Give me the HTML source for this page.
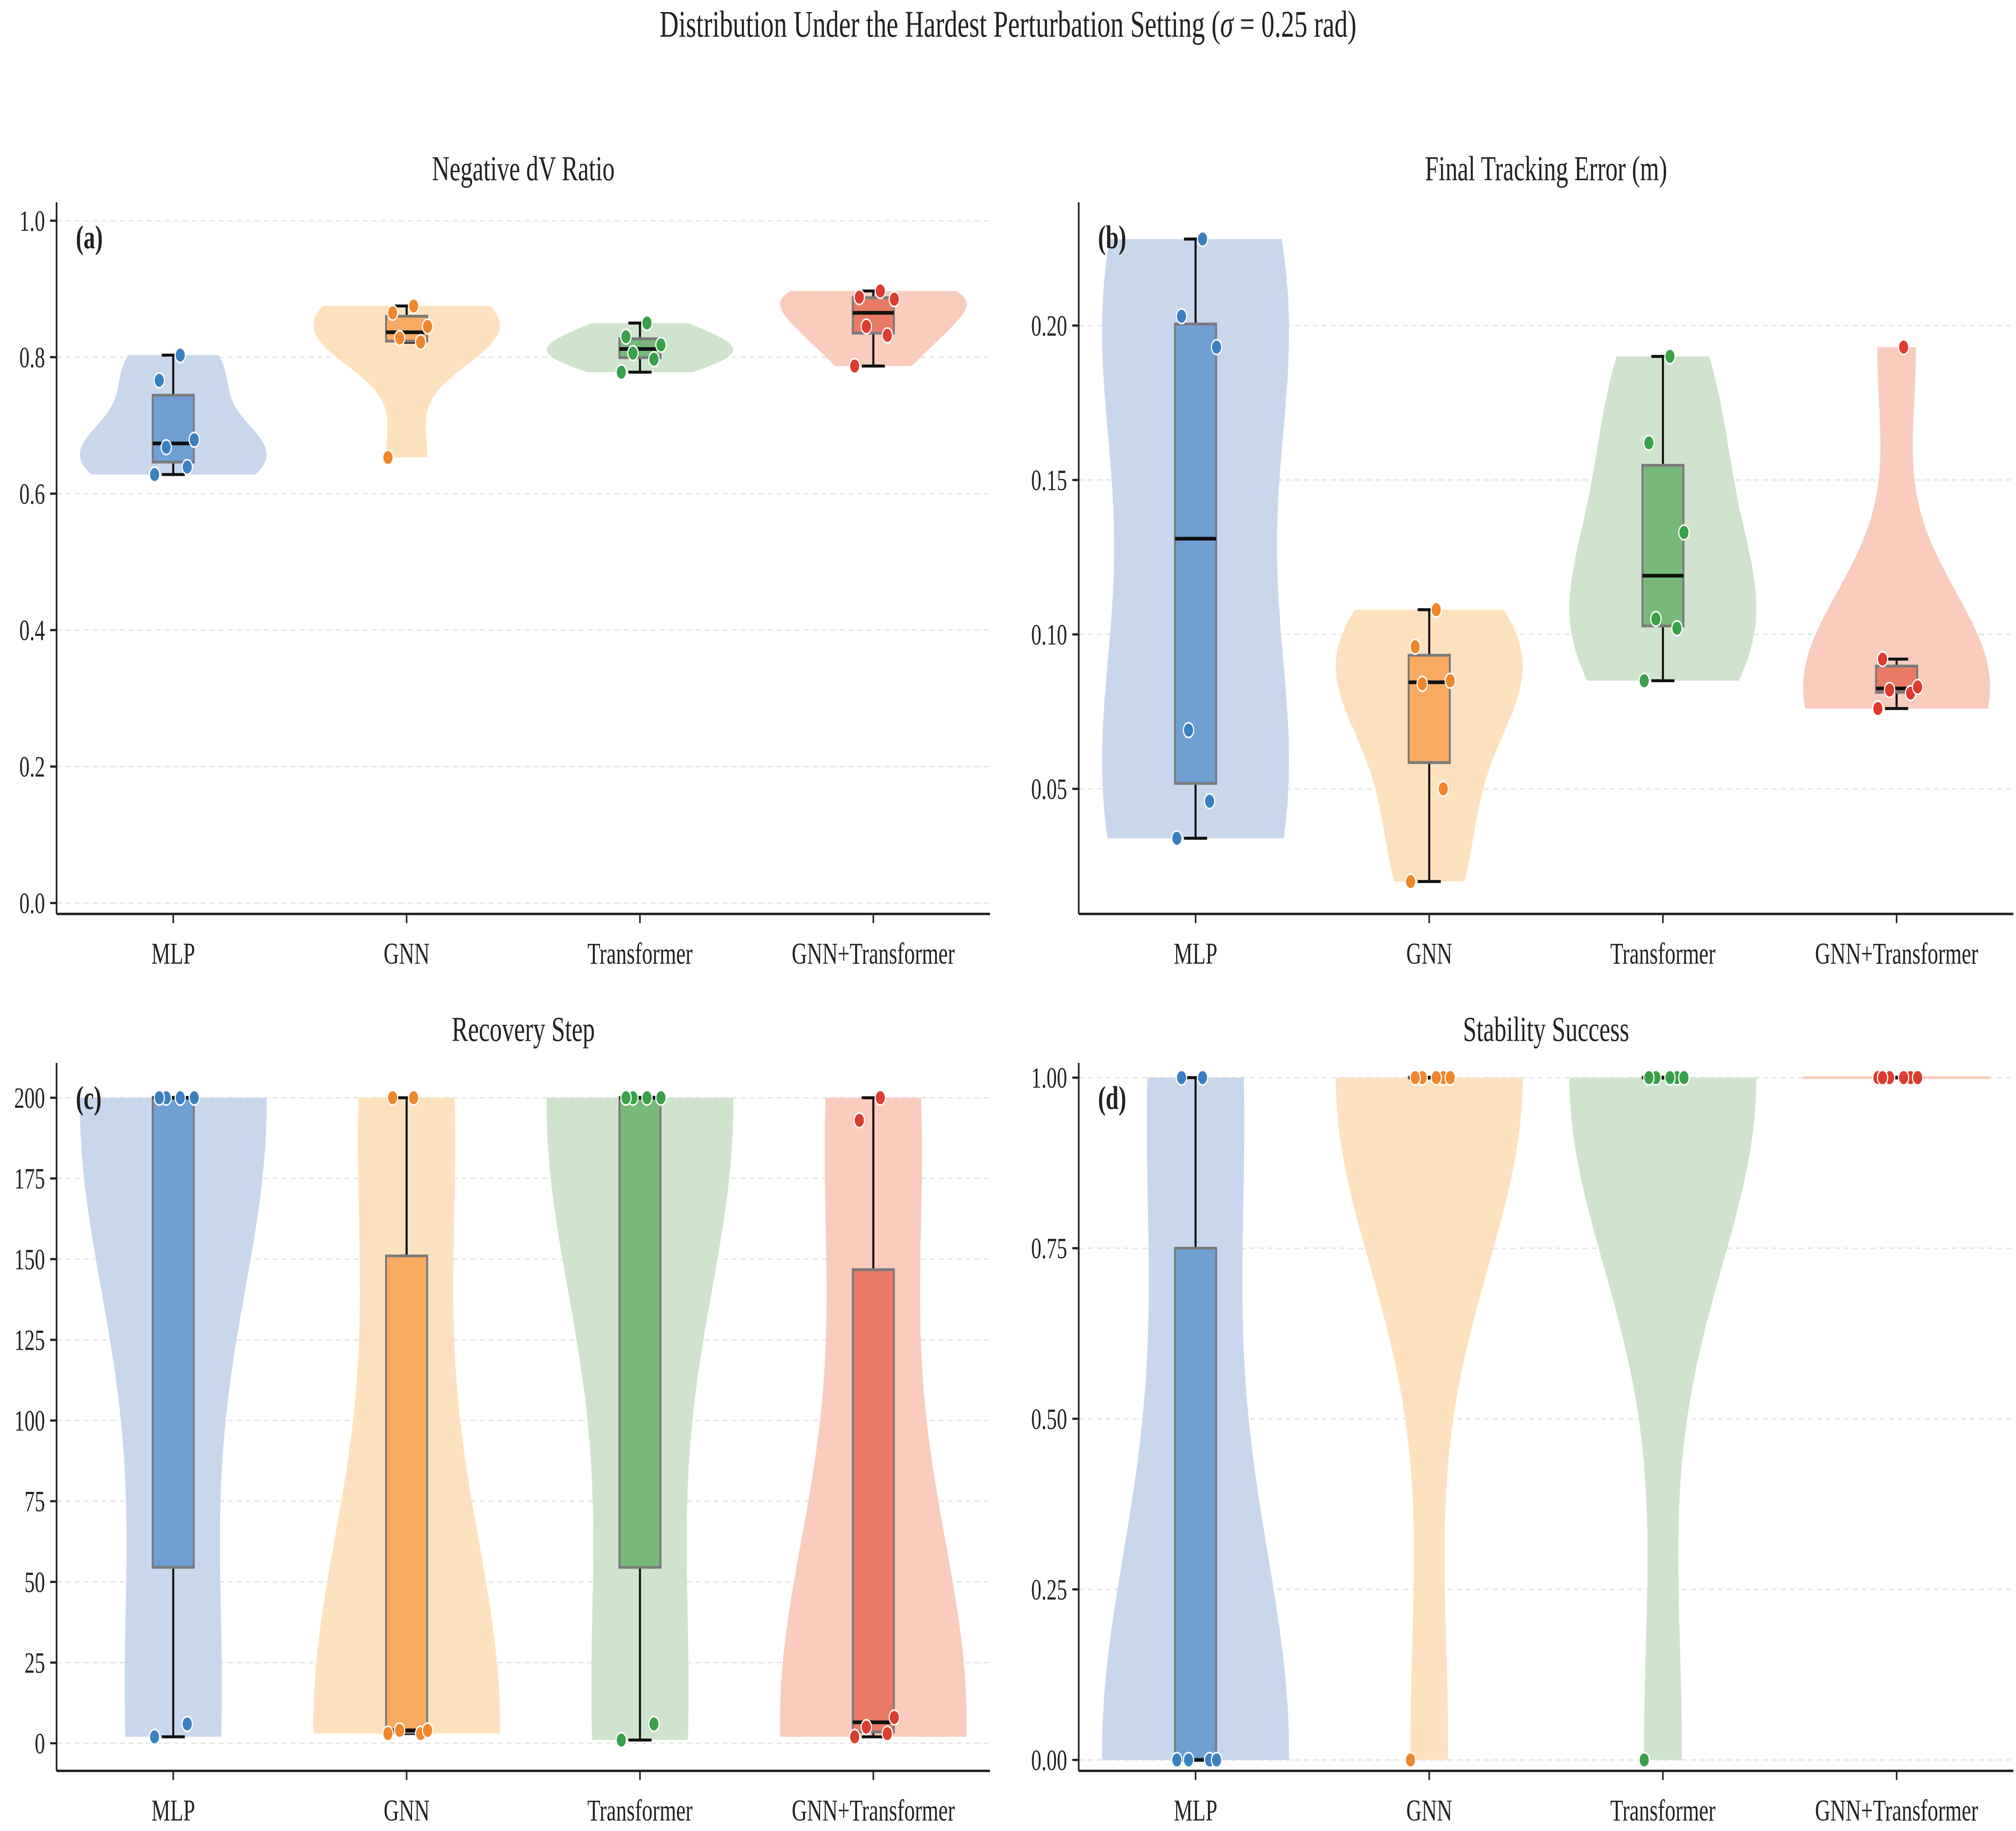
<!DOCTYPE html>
<html><head><meta charset="utf-8"><style>
html,body{margin:0;padding:0;background:#fff;width:100%;height:100%;overflow:hidden;}
svg{display:block;width:100vw;height:100vh;}
text{font-family:"Liberation Serif",serif;fill:#222;}
</style></head><body>
<svg id="chart" viewBox="0 0 1568 995.7" preserveAspectRatio="none" xmlns="http://www.w3.org/2000/svg">
<rect x="0" y="0" width="1568" height="996" fill="#fff"/>
<text x="784" y="20" text-anchor="middle" font-size="20.5">Distribution Under the Hardest Perturbation Setting (<tspan font-style="italic">σ</tspan> = 0.25 rad)</text>
</svg>
<script>
const categories = ["MLP","GNN","Transformer","GNN+Transformer"];
const negDV = [[0.628,0.639,0.668,0.679,0.766,0.803],[0.653,0.822,0.828,0.845,0.865,0.875],[0.778,0.797,0.806,0.818,0.830,0.850],[0.787,0.832,0.845,0.885,0.888,0.897]];
const trackErr = [[0.034,0.046,0.069,0.193,0.203,0.228],[0.020,0.050,0.084,0.085,0.096,0.108],[0.085,0.102,0.105,0.133,0.162,0.190],[0.076,0.081,0.082,0.083,0.092,0.193]];
const recovery = [[2,6,200,200,200,200],[3,3,4,4,200,200],[1,6,200,200,200,200],[2,3,5,8,193,200]];
const stability = [[0,0,0,0,1,1],[0,1,1,1,1,1],[0,1,1,1,1,1],[1,1,1,1,1,1]];
const ticksA = [0,0.2,0.4,0.6,0.8,1.0];
const ticksB = [0.05,0.10,0.15,0.20];
const ticksC = [0,25,50,75,100,125,150,175,200];
const ticksD = [0,0.25,0.5,0.75,1.0];
const jitter = [-0.08,0.06,-0.03,0.09,-0.06,0.03];

const violinColors=["#c9d7ec","#fde1bf","#d0e4cd","#f9ccbe"];
const boxColors=["#6f9fd3","#f9aa63","#78b87a","#ea7a66"];
const dotColors=["#3b80c0","#f0872c","#3aa04a","#dd3c2e"];
const NS="http://www.w3.org/2000/svg";
const svg=document.getElementById("chart");
function el(tag,attrs,parent){const e=document.createElementNS(NS,tag);for(const k in attrs)e.setAttribute(k,attrs[k]);(parent||svg).appendChild(e);return e;}
function quant(s,p){const pos=(s.length-1)*p,lo=Math.floor(pos),hi=Math.ceil(pos);return s[lo]+(s[hi]-s[lo])*(pos-lo);}
function c_(i){return categories[i].toLowerCase().replace(/\+/g,'-');}

const panels=[
 {id:"a",title:"Negative dV Ratio",data:negDV,ticks:ticksA,dec:1,x0:44,x1:770,top:110,bot:497,dom:[-0.016,1.027]},
 {id:"b",title:"Final Tracking Error (m)",data:trackErr,ticks:ticksB,dec:2,x0:839,x1:1566,top:110,bot:497,dom:[0.0095,0.2399]},
 {id:"c",title:"Recovery Step",data:recovery,ticks:ticksC,dec:0,x0:44,x1:770,top:578,bot:963,dom:[-8.55,210.8]},
 {id:"d",title:"Stability Success",data:stability,ticks:ticksD,dec:2,x0:839,x1:1566,top:578,bot:963,dom:[-0.016,1.0216]}
];

panels.forEach(P=>{
 const g=el("g",{});
 
 
 const sp=(P.x1-P.x0)/4;
 const xs=i=>P.x0+sp*(i+0.5);
 const ys=v=>P.bot-(v-P.dom[0])/(P.dom[1]-P.dom[0])*(P.bot-P.top);
 P.ticks.forEach(t=>{
  const y=ys(t);
  const gl=el("line",{x1:P.x0,x2:P.x1,y1:y,y2:y,stroke:"#e6e6e6","stroke-width":0.8,"stroke-dasharray":"4,3"},g);
  
  
  el("line",{x1:P.x0-5,x2:P.x0,y1:y,y2:y,stroke:"#222","stroke-width":1.2},g);
  const tl=el("text",{x:P.x0-9,y:y+5.5,"text-anchor":"end","font-size":16},g);
  tl.textContent=t.toFixed(P.dec);
  
  
 });
 categories.forEach((c,i)=>{
  el("line",{x1:xs(i),x2:xs(i),y1:P.bot,y2:P.bot+5,stroke:"#222","stroke-width":1.2},g);
  const tl=el("text",{x:xs(i),y:P.bot+27,"text-anchor":"middle","font-size":16.5},g);
  tl.textContent=c;
  
  
 });
 P.data.forEach((vals,i)=>{
  const s=vals.slice().sort((a,b)=>a-b);
  const n=s.length,mean=s.reduce((a,b)=>a+b,0)/n;
  const sd=Math.sqrt(s.reduce((a,b)=>a+(b-mean)**2,0)/(n-1));
  const cx=xs(i),maxW=0.4*sp;
  if(sd===0){
   const vl=el("line",{x1:cx-maxW,x2:cx+maxW,y1:ys(s[0]),y2:ys(s[0]),stroke:violinColors[i],"stroke-width":1.5},g);
   
   
  } else {
   const bw=sd*Math.pow(n,-0.2),N=120,pts=[];let mx=0;
   for(let k=0;k<=N;k++){const v=s[0]+(s[n-1]-s[0])*k/N;let d=0;s.forEach(x=>{d+=Math.exp(-0.5*((v-x)/bw)**2);});pts.push([v,d]);if(d>mx)mx=d;}
   let path="";
   pts.forEach((p,k)=>{path+=(k?"L":"M")+(cx+maxW*p[1]/mx).toFixed(2)+","+ys(p[0]).toFixed(2);});
   for(let k=pts.length-1;k>=0;k--){const p=pts[k];path+="L"+(cx-maxW*p[1]/mx).toFixed(2)+","+ys(p[0]).toFixed(2);}
   const vp=el("path",{d:path+"Z",fill:violinColors[i]},g);
   
   
  }
  const q1=quant(s,0.25),q3=quant(s,0.75),med=quant(s,0.5),iqr=q3-q1;
  const lo=s.find(v=>v>=q1-1.5*iqr),hi=s.slice().reverse().find(v=>v<=q3+1.5*iqr);
  const bw2=16,cap=9;
  el("line",{x1:cx,x2:cx,y1:ys(hi),y2:ys(q3),stroke:"#111","stroke-width":1.6},g);
  el("line",{x1:cx,x2:cx,y1:ys(q1),y2:ys(lo),stroke:"#111","stroke-width":1.6},g);
  el("line",{x1:cx-cap,x2:cx+cap,y1:ys(hi),y2:ys(hi),stroke:"#111","stroke-width":1.6},g);
  el("line",{x1:cx-cap,x2:cx+cap,y1:ys(lo),y2:ys(lo),stroke:"#111","stroke-width":1.6},g);
  const bx=el("rect",{x:cx-bw2,y:ys(q3),width:2*bw2,height:Math.max(ys(q1)-ys(q3),0.01),fill:boxColors[i],stroke:"#7a7a7a","stroke-width":1.5},g);
  
  
  el("line",{x1:cx-bw2,x2:cx+bw2,y1:ys(med),y2:ys(med),stroke:"#111","stroke-width":2},g);
  vals.forEach((v,k)=>{
   const pt=el("circle",{cx:cx+jitter[k%jitter.length]*sp,cy:ys(v),r:4,fill:dotColors[i],stroke:"#fff","stroke-width":0.9},g);
   
   
  });
 });
 el("line",{x1:P.x0,x2:P.x0,y1:P.top,y2:P.bot,stroke:"#222","stroke-width":1.3},g);
 el("line",{x1:P.x0,x2:P.x1,y1:P.bot,y2:P.bot,stroke:"#222","stroke-width":1.3},g);
 const tt=el("text",{x:(P.x0+P.x1)/2,y:P.top-12,"text-anchor":"middle","font-size":19},g);
 tt.textContent=P.title;
 
 
 const lb=el("text",{x:P.x0+15,y:P.top+25,"font-size":18,"font-weight":"bold"},g);
 lb.textContent="("+P.id+")";
 
 
});
</script>
</body></html>
